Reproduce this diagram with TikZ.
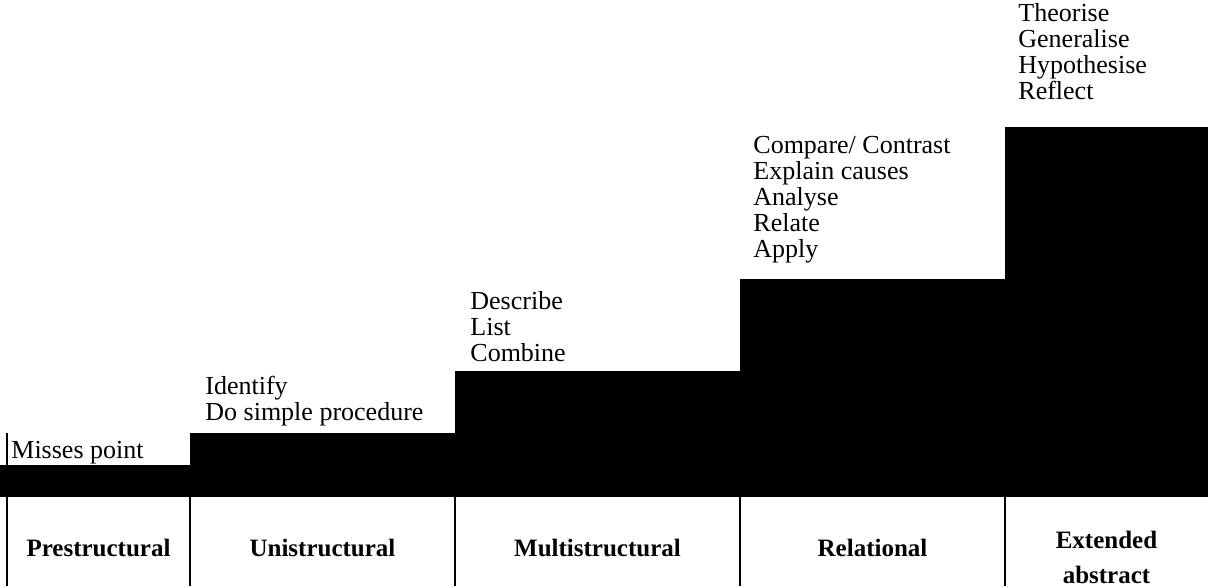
\documentclass[tikz,border=0pt]{standalone}
\usepackage{fontspec}
\setmainfont{Liberation Serif}
\begin{document}
\begin{tikzpicture}[x=0.5pt,y=-0.5pt,
  bar/.style={fill=black,draw=none},
  rule/.style={line width=1pt,draw=black},
  verbs/.style={anchor=south west,inner sep=0pt,text depth=0pt,align=left,
    font=\fontsize{13}{13}\selectfont},
  level/.style={anchor=center,inner sep=0pt,align=center,
    font=\fontsize{12.5}{17.5}\selectfont\bfseries}]
\useasboundingbox (0,0) rectangle (1208,586);
% steps
\fill[bar] (0,465) rectangle (190,497);
\fill[bar] (190,433) rectangle (455,497);
\fill[bar] (455,371) rectangle (740,497);
\fill[bar] (740,279) rectangle (1005,497);
\fill[bar] (1005,127) rectangle (1208,497);
% table rules
\coordinate (l0) at (7,433);
\coordinate (l0b) at (7,586);
\coordinate (l1) at (190,497);
\coordinate (l1b) at (190,586);
\coordinate (l2) at (455,497);
\coordinate (l2b) at (455,586);
\coordinate (l3) at (740,497);
\coordinate (l3b) at (740,586);
\coordinate (l4) at (1005,497);
\coordinate (l4b) at (1005,586);
\draw[rule] (l0) -- (l0b);
\draw[rule] (l1) -- (l1b);
\draw[rule] (l2) -- (l2b);
\draw[rule] (l3) -- (l3b);
\draw[rule] (l4) -- (l4b);
% verbs
\node[verbs] (v0) at (11,459) {Misses point};
\node[verbs] (v1) at (205,421) {Identify\\Do simple procedure};
\node[verbs] (v2) at (470,362) {Describe\\List\\Combine};
\node[verbs] (v3) at (753,258) {Compare/ Contrast\\Explain causes\\Analyse\\Relate\\Apply};
\node[verbs] (v4) at (1018,100) {Theorise\\Generalise\\Hypothesise\\Reflect};
% levels
\node[level] (p0) at (98.5,548) {Prestructural};
\node[level] (p1) at (322.5,548) {Unistructural};
\node[level] (p2) at (597.5,548) {Multistructural};
\node[level] (p3) at (872.5,548) {Relational};
\node[level] (p4) at (1106.5,557) {Extended\\abstract};
\end{tikzpicture}
\end{document}
